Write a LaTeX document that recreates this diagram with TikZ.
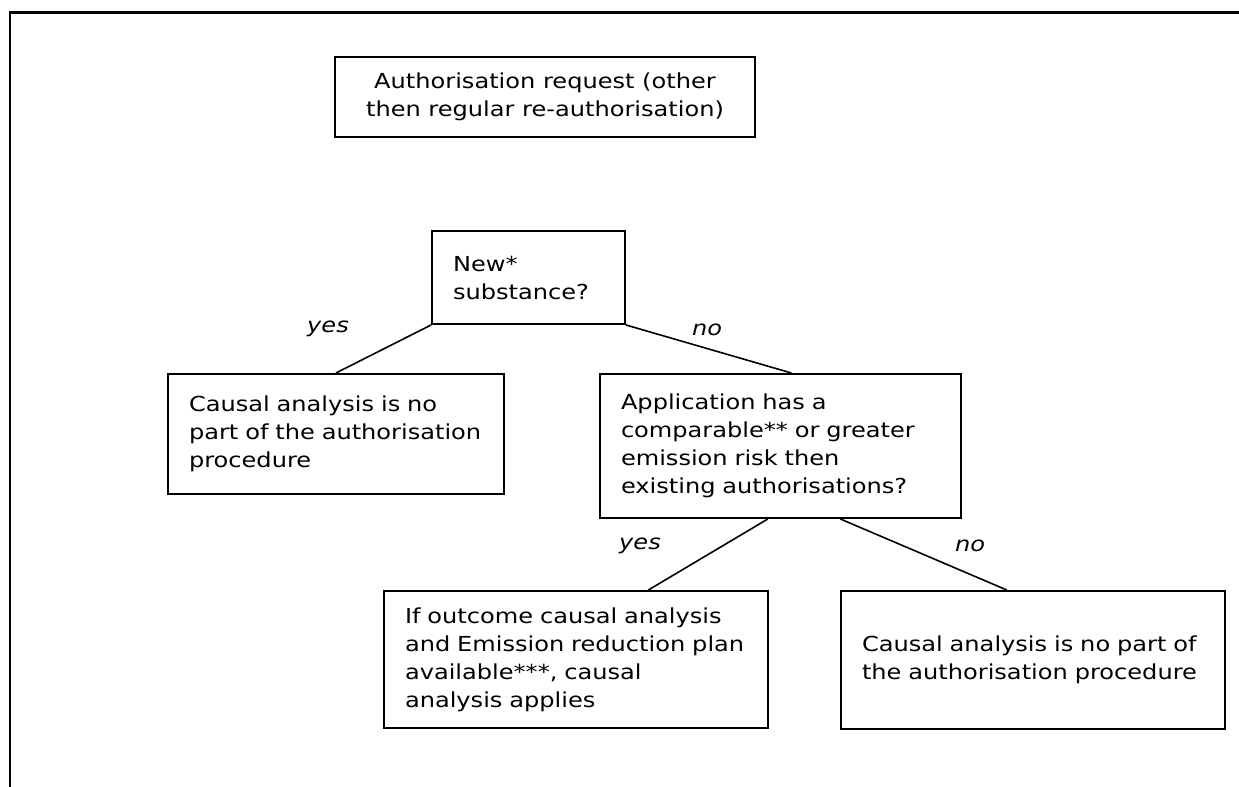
\documentclass[tikz,border=0pt]{standalone}
\usepackage{fontspec}
\setmainfont{DejaVu Sans}[FakeStretch=1.165]
\usetikzlibrary{calc}
\begin{document}
\begin{tikzpicture}[x=0.75pt,y=-0.75pt,
  txt/.style={font=\fontsize{15.5}{21}\selectfont},
  box/.style={txt,draw,line width=1.5pt,inner xsep=15.75pt,inner ysep=0pt,align=left},
  conn/.style={line width=1.2pt},
  lbl/.style={txt,font=\fontsize{15.5}{21}\selectfont\itshape,inner sep=0pt}]
\useasboundingbox (0,0) rectangle (1239,787);
% frame along the top and left edges
\draw[line width=1.7pt] (10,787) -- (10,12.5) -- (1239,12.5);

\node[box,align=center,minimum width=315pt,minimum height=60pt] (b1) at (545,97)
  {Authorisation request (other\\then regular re-authorisation)};
\node[box,text width=113.25pt,minimum width=144.75pt,minimum height=69.75pt] (b2) at (528.5,277.5)
  {New*\\substance?};
\node[box,text width=220.5pt,minimum width=252pt,minimum height=90pt] (b3) at (336,434)
  {Causal analysis is no\\part of the authorisation\\procedure};
\node[box,text width=239.25pt,minimum width=270.75pt,minimum height=108pt] (b4) at (780.5,446)
  {Application has a\\comparable** or greater\\emission risk then\\existing authorisations?};
\node[box,text width=256.5pt,minimum width=288pt,minimum height=102.75pt] (b5) at (576,659.5)
  {If outcome causal analysis\\and Emission reduction plan\\available***, causal\\analysis applies};
\node[box,text width=256.5pt,minimum width=288pt,minimum height=103.5pt] (b6) at (1033,660)
  {Causal analysis is no part of\\the authorisation procedure};

\draw[conn] (b2.south west) -- (b3.north);
\draw[conn] (b2.south east) -- ($(b4.north west)!0.53!(b4.north east)$);
\draw[conn] ($(b4.south west)!0.465!(b4.south east)$) -- ($(b5.north west)!0.6875!(b5.north east)$);
\draw[conn] ($(b4.south west)!0.665!(b4.south east)$) -- ($(b6.north west)!0.432!(b6.north east)$);

\node[lbl] (l1) at (328,329) {yes};
\node[lbl] (l2) at (707,330) {no};
\node[lbl] (l3) at (640,546) {yes};
\node[lbl] (l4) at (970,546) {no};
\end{tikzpicture}
\end{document}
